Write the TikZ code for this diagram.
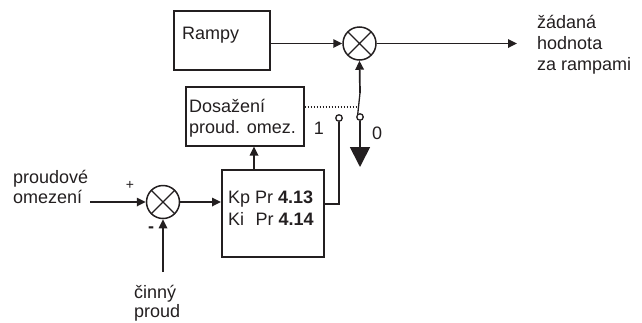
\documentclass[tikz,border=0pt]{standalone}
\usepackage{fontspec}
\setmainfont{Liberation Sans}
\usetikzlibrary{arrows.meta}
\definecolor{ink}{HTML}{231F20}
\begin{document}
\begin{tikzpicture}[x=1pt,y=-1pt, color=ink,
  every node/.style={font=\fontsize{18}{21}\selectfont, text=ink},
  box/.style={draw, line width=1.5pt, inner sep=0, anchor=north west},
  sumc/.style={draw, circle, line width=1.5pt, minimum size=33pt, inner sep=0,
    path picture={\draw[line width=1.3pt] (path picture bounding box.north west)--(path picture bounding box.south east)
      (path picture bounding box.north east)--(path picture bounding box.south west);}},
  lab/.style={anchor=base west, inner sep=0},
  sig/.style={line width=1.7pt, -{Triangle[length=9pt,width=8.5pt]}},
  wire/.style={line width=1.7pt},
  contact/.style={draw, circle, line width=1.3pt, minimum size=6.5pt, inner sep=0, fill=white},
  dots/.style={line width=1.6pt, dash pattern=on 1.6pt off 1.4pt}
]
\useasboundingbox (0,0) rectangle (642,322);
% boxes
\node[box, minimum width=96pt, minimum height=59pt] (ramp) at (173,10) {};
\node[box, minimum width=118pt, minimum height=59pt] (dos) at (185,86) {};
\node[box, minimum width=102pt, minimum height=87pt] (kp) at (221,169) {};
% texts
\node[lab] (tramp) at (182,39) {Rampy};
\node[lab] (td1) at (189,112) {Dosažení};
\node[lab] (td2) at (189,133) {proud. omez.};
\node[lab] (tk1) at (228,203) {Kp Pr \textbf{4.13}};
\node[lab] (tk2) at (228,225) {Ki\hspace{11.5pt}Pr \textbf{4.14}};
\node[lab] (to1) at (537,28) {žádaná};
\node[lab] (to2) at (537,49) {hodnota};
\node[lab] (to3) at (537,70) {za rampami};
\node[lab] (ti1) at (13,183) {proudové};
\node[lab] (ti2) at (13,203) {omezení};
\node[lab] (ta1) at (134,298) {činný};
\node[lab] (ta2) at (134,317) {proud};
\node[inner sep=0, font=\fontsize{14}{16}\selectfont] (plus) at (130,185) {+};
\node[inner sep=0, font=\fontsize{18}{21}\selectfont\bfseries] (minus) at (151,230) {-};
\node[inner sep=0] (one) at (319,128) {1};
\node[inner sep=0] (zero) at (377,133) {0};
% summing points
\node[sumc] (s1) at (359.5,43.5) {};
\node[sumc] (s2) at (163,202) {};
% switch
\coordinate (swtop) at (360,93);
\coordinate (bl) at (358.3,107);
\node[contact] (c0) at (360,117) {};
\node[contact] (c1) at (339,118) {};
\coordinate (gnd) at (360,167);
\coordinate (inp) at (90,202);
\coordinate (act) at (163,272);
\coordinate (out) at (517,43.5);
% connectors
\draw[sig] (ramp.east |- s1.west) -- (s1.west);
\draw[sig] (s1.east) -- (out);
\draw[sig] (swtop) -- (s1.south);
\draw[line width=1.3pt] (swtop) -- (c0.125);
\draw[dots] (dos.east |- bl) -- (bl);
\draw[wire, -{Triangle[length=20pt,width=20pt]}] (c0.south) -- (gnd);
\draw[wire] (c1.south) |- (kp.north east |- 0,204);
\draw[sig] (254,0 |- kp.north) -- (254,0 |- dos.south);
\draw[sig] (inp) -- (s2.west);
\draw[sig] (s2.east) -- (kp.west |- s2.east);
\draw[sig] (act) -- (s2.south);
\end{tikzpicture}
\end{document}
